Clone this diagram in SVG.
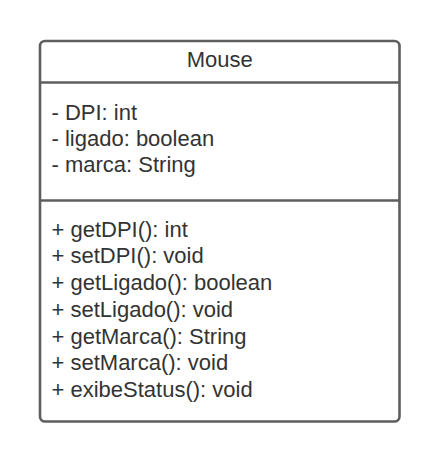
<svg xmlns="http://www.w3.org/2000/svg" width="440" height="464" viewBox="0 0 440 464">
<style>
.box{fill:#ffffff;stroke:#5e5e5e;stroke-width:2.6}
.div{stroke:#5e5e5e;stroke-width:2.6}
text{font-family:"Liberation Sans",Arial,sans-serif;font-size:22px;fill:#333333}
</style>
<rect width="440" height="464" fill="#ffffff"/>
<g id="mouse">
<rect class="box" x="40" y="41" width="359.5" height="380.5" rx="5"/>
<line class="div" x1="40" y1="82.5" x2="399.5" y2="82.5"/>
<line class="div" x1="40" y1="200.5" x2="399.5" y2="200.5"/>
<text x="219.7" y="66.7" text-anchor="middle">Mouse</text>
<text x="51.5" y="119.5">- DPI: int</text>
<text x="51.5" y="145.5">- ligado: boolean</text>
<text x="51.5" y="171.8">- marca: String</text>
<text x="51.5" y="236.7">+ getDPI(): int</text>
<text x="51.5" y="263.4">+ setDPI(): void</text>
<text x="51.5" y="290.1">+ getLigado(): boolean</text>
<text x="51.5" y="316.8">+ setLigado(): void</text>
<text x="51.5" y="343.5">+ getMarca(): String</text>
<text x="51.5" y="370.2">+ setMarca(): void</text>
<text x="51.5" y="396.9">+ exibeStatus(): void</text>
</g>
</svg>
